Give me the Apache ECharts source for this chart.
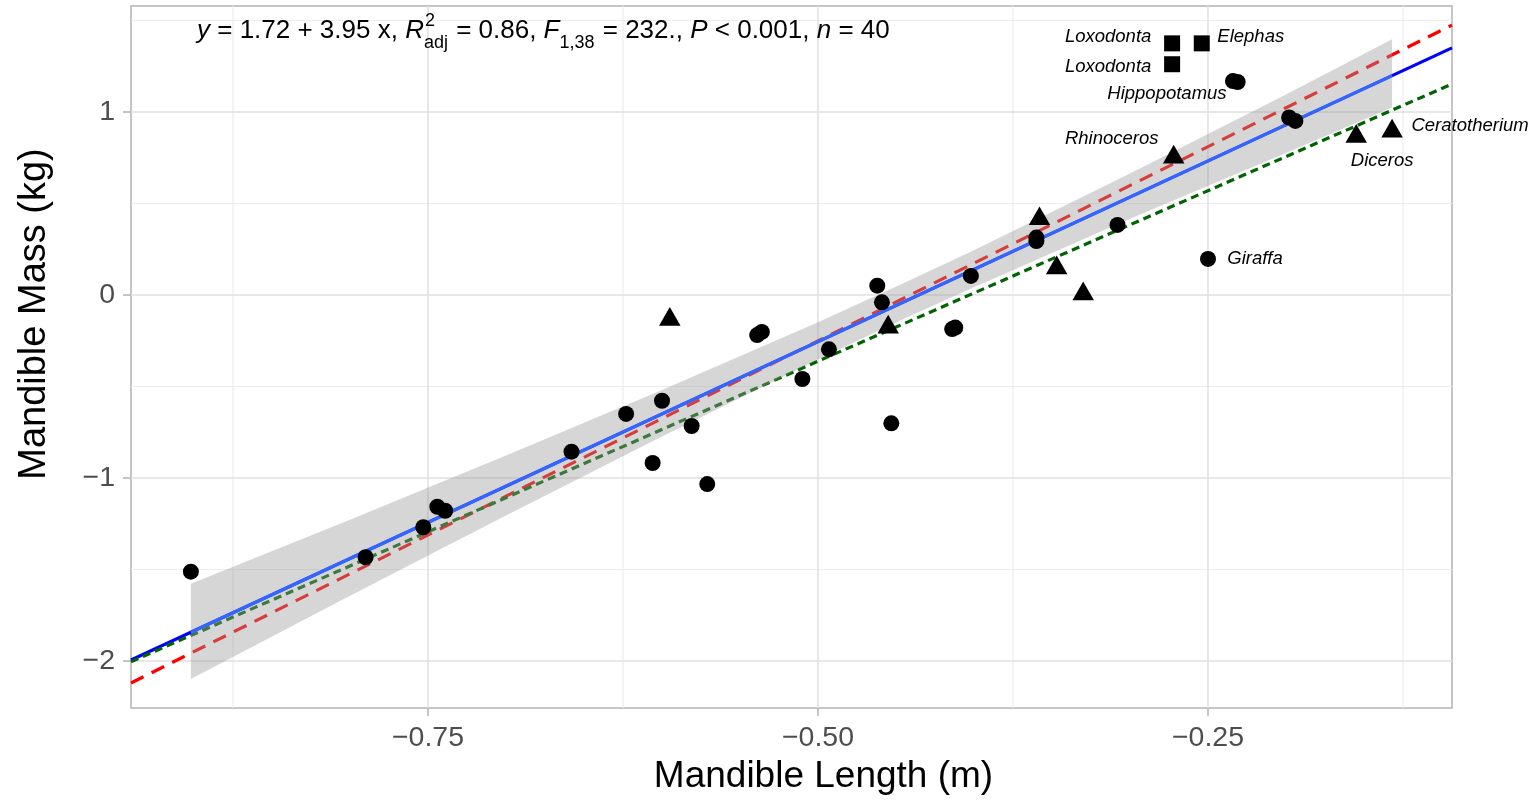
<!DOCTYPE html>
<html>
<head>
<meta charset="utf-8">
<script src="https://cdn.jsdelivr.net/npm/echarts@6/dist/echarts.min.js"></script>
<style>
  html, body { margin: 0; padding: 0; background: #ffffff; }
  #chart { width: 1535px; height: 805px; }
</style>
</head>
<body>
<div id="chart"></div>
<script>
// ---- data (log10 mandible length vs. log10 mandible mass) ----
const circleX = [-0.902, -0.790, -0.753, -0.744, -0.739, -0.658, -0.623, -0.606, -0.600, -0.581,
                 -0.571, -0.539, -0.536, -0.510, -0.493, -0.462, -0.459, -0.453, -0.414, -0.412,
                 -0.402, -0.360, -0.360, -0.308, -0.250, -0.234, -0.231, -0.198, -0.194];
const circleY = [-1.512, -1.433, -1.269, -1.157, -1.179, -0.856, -0.650, -0.918, -0.578, -0.716,
                 -1.033, -0.219, -0.202, -0.459, -0.297, 0.051, -0.040, -0.701, -0.186, -0.178,
                 0.104, 0.314, 0.295, 0.383, 0.197, 1.169, 1.164, 0.970, 0.951];
const circleNames = ['', '', '', '', '', '', '', '', '', '', '', '', '', '', '', '', '', '', '', '',
                     '', '', '', '', 'Giraffa', 'Hippopotamus', '', '', ''];

const triangleX = [-0.595, -0.455, -0.358, -0.347, -0.330, -0.272, -0.155, -0.132];
const triangleY = [-0.134, -0.176, 0.416, 0.148, 0.006, 0.753, 0.866, 0.895];
const triangleNames = ['', '', '', '', '', 'Rhinoceros', 'Diceros', 'Ceratotherium'];

const squareX = [-0.273, -0.254, -0.273];
const squareY = [1.375, 1.375, 1.261];
const squareNames = ['Loxodonta', 'Elephas', 'Loxodonta'];

// confidence band of the fitted line
const ribbonX     = [-0.902, -0.80, -0.70, -0.60, -0.50, -0.446, -0.40, -0.30, -0.20, -0.132];
const ribbonUpper = [-1.578, -1.228, -0.877, -0.519, -0.149, 0.062, 0.245, 0.664, 1.096, 1.398];
const ribbonLower = [-2.098, -1.644, -1.205, -0.773, -0.353, -0.134, 0.043, 0.416, 0.776, 1.024];

// regression and reference lines: intercept, slope
const fitIntercept = 1.72, fitSlope = 3.95;
const dashedIntercept = 1.872, dashedSlope = 4.245;
const dottedIntercept = 1.502, dottedSlope = 3.728;

// model statistics
const r2adj = '0.86', fDf = '1,38', fValue = '232.', pText = '< 0.001', nObs = 40;

// axes
const xTicks = [-0.75, -0.50, -0.25];
const xMinorTicks = [-0.875, -0.625, -0.375, -0.125];
const yTicks = [-2, -1, 0, 1];
const yMinorTicks = [-1.5, -0.5, 0.5, 1.5];

// ---- layout ----
const X_MIN = -0.94038, X_MAX = -0.09359;
const Y_MIN = -2.2568, Y_MAX = 1.5792;
const FONT = '"Liberation Sans", Arial, Helvetica, sans-serif';

// label offsets (px) relative to the marker
const labelOffsets = {
  circle: { 24: [47, 0], 25: [-66, 13] },
  triangle: { 5: [-62, -15], 6: [26, 27], 7: [78, -2] },
  square: { 0: [-64, -7], 1: [49, -7], 2: [-64, 3] }
};

function pointData(xs, ys, names, kind) {
  return xs.map((x, i) => {
    const item = { value: [x, ys[i]], name: names[i] };
    if (names[i]) {
      item.label = {
        show: true, position: 'inside', formatter: '{b}',
        offset: labelOffsets[kind][i],
        fontStyle: 'italic', fontSize: 18.5, fontFamily: FONT, color: '#000'
      };
    }
    return item;
  });
}

function lineEnds(a, b, x0, x1) {
  return [[x0, a + b * x0], [x1, a + b * x1]];
}

const minus = s => s.replace('-', '\u2212');

// gridlines
const gridSpecs = []
  .concat(xMinorTicks.map(v => ({ axis: 'x', v, major: false })))
  .concat(yMinorTicks.map(v => ({ axis: 'y', v, major: false })))
  .concat(xTicks.map(v => ({ axis: 'x', v, major: true })))
  .concat(yTicks.map(v => ({ axis: 'y', v, major: true })));

// equation text built from pieces
const ctx = document.createElement('canvas').getContext('2d');
function tw(t, size, italic) {
  ctx.font = (italic ? 'italic ' : '') + size + 'px ' + FONT;
  return ctx.measureText(t).width;
}
const EQ_SIZE = 26, EQ_SMALL = 18, EQ_X = 197, EQ_Y = 31;
const eqParts = [
  { t: 'y', it: true },
  { t: ' = ' + fitIntercept.toFixed(2) + ' + ' + fitSlope.toFixed(2) + ' x, ' },
  { t: 'R', it: true },
  { sup: '2', sub: 'adj' },
  { t: ' = ' + r2adj + ', ' },
  { t: 'F', it: true },
  { sub: fDf },
  { t: ' = ' + fValue + ', ' },
  { t: 'P', it: true },
  { t: ' ' + pText + ', ' },
  { t: 'n', it: true },
  { t: ' = ' + nObs }
];
const eqGraphics = [];
let cx = EQ_X;
function eqText(text, x, y, size, italic) {
  eqGraphics.push({
    type: 'text', x, y, z: 100, silent: true,
    style: { text, fontSize: size, fontStyle: italic ? 'italic' : 'normal', fontFamily: FONT,
             fill: '#000', align: 'left', verticalAlign: 'middle' }
  });
}
eqParts.forEach(p => {
  if (p.t !== undefined) {
    eqText(p.t, cx, EQ_Y, EQ_SIZE, p.it);
    cx += tw(p.t, EQ_SIZE, p.it);
  } else {
    let w = 0;
    if (p.sup) { eqText(p.sup, cx + 1, EQ_Y - 10, EQ_SMALL, false); w = Math.max(w, tw(p.sup, EQ_SMALL)); }
    if (p.sub) { eqText(p.sub, cx, EQ_Y + 12, EQ_SMALL, false); w = Math.max(w, tw(p.sub, EQ_SMALL)); }
    cx += w + 1;
  }
});

const chart = echarts.init(document.getElementById('chart'), null, { renderer: 'canvas' });

chart.setOption({
  animation: false,
  backgroundColor: '#ffffff',
  grid: {
    left: 131, top: 6, width: 1321, height: 702,
    show: true, borderColor: '#B3B3B3', borderWidth: 1.5, backgroundColor: 'transparent'
  },
  xAxis: {
    type: 'value', min: X_MIN, max: X_MAX,
    name: 'Mandible Length (m)', nameLocation: 'middle', nameGap: 50,
    nameTextStyle: { fontSize: 37, fontFamily: FONT, color: '#000', padding: [0, 0, 0, 64] },
    axisLine: { show: false, onZero: false },
    splitLine: { show: false },
    axisTick: { show: true, length: 8, customValues: xTicks, lineStyle: { color: '#B3B3B3', width: 1.5 } },
    axisLabel: {
      customValues: xTicks, margin: 16, fontSize: 28.5, fontFamily: FONT, color: '#4D4D4D',
      formatter: v => minus(v.toFixed(2))
    }
  },
  yAxis: {
    type: 'value', min: Y_MIN, max: Y_MAX,
    name: 'Mandible Mass (kg)', nameLocation: 'middle', nameGap: 77, nameRotate: 90,
    nameTextStyle: { fontSize: 38, fontFamily: FONT, color: '#000', padding: [0, 0, 0, 86] },
    axisLine: { show: false, onZero: false },
    splitLine: { show: false },
    axisTick: { show: true, length: 8, customValues: yTicks, lineStyle: { color: '#B3B3B3', width: 1.5 } },
    axisLabel: {
      customValues: yTicks, margin: 16, fontSize: 28.5, fontFamily: FONT, color: '#4D4D4D',
      formatter: v => minus(String(v))
    }
  },
  graphic: { elements: eqGraphics },
  series: [
    {
      // panel gridlines
      type: 'custom', z: 0, silent: true,
      data: gridSpecs.map(g => [g.axis === 'x' ? g.v : X_MIN, g.axis === 'y' ? g.v : Y_MIN]),
      renderItem(params, api) {
        const g = gridSpecs[params.dataIndex];
        const cs = params.coordSys;
        let shape;
        if (g.axis === 'x') {
          const px = api.coord([g.v, 0])[0];
          shape = { x1: px, y1: cs.y, x2: px, y2: cs.y + cs.height };
        } else {
          const py = api.coord([X_MIN, g.v])[1];
          shape = { x1: cs.x, y1: py, x2: cs.x + cs.width, y2: py };
        }
        return {
          type: 'line', shape,
          style: { stroke: g.major ? '#E0E0E0' : '#EDEDED', lineWidth: g.major ? 1.5 : 1.2 }
        };
      }
    },
    {
      name: 'fit (extended)', type: 'line', z: 1, silent: true, showSymbol: false,
      data: lineEnds(fitIntercept, fitSlope, X_MIN, X_MAX),
      lineStyle: { color: '#0000FF', width: 3.2 }
    },
    {
      name: 'dashed reference', type: 'line', z: 1, silent: true, showSymbol: false,
      data: lineEnds(dashedIntercept, dashedSlope, X_MIN, X_MAX),
      lineStyle: { color: '#FF0000', width: 3.2, type: [14, 9], cap: 'butt' }
    },
    {
      name: 'dotted reference', type: 'line', z: 1, silent: true, showSymbol: false,
      data: lineEnds(dottedIntercept, dottedSlope, X_MIN, X_MAX),
      lineStyle: { color: '#006400', width: 3.2, type: [8, 5], cap: 'butt' }
    },
    {
      // confidence band
      type: 'custom', z: 2, silent: true,
      data: ribbonX.map((x, i) => [x, ribbonUpper[i], ribbonLower[i]]),
      encode: { x: 0, y: [1, 2] },
      renderItem(params, api) {
        if (params.dataIndex !== 0) return null;
        const up = ribbonX.map((x, i) => api.coord([x, ribbonUpper[i]]));
        const lo = ribbonX.map((x, i) => api.coord([x, ribbonLower[i]])).reverse();
        return { type: 'polygon', shape: { points: up.concat(lo) }, style: { fill: 'rgba(153,153,153,0.4)' } };
      }
    },
    {
      name: 'fit', type: 'line', z: 3, silent: true, showSymbol: false,
      data: lineEnds(fitIntercept, fitSlope, ribbonX[0], ribbonX[ribbonX.length - 1]),
      lineStyle: { color: '#3366FF', width: 3.2 }
    },
    {
      type: 'scatter', z: 4, symbol: 'circle', symbolSize: 16,
      itemStyle: { color: '#000', opacity: 1 },
      data: pointData(circleX, circleY, circleNames, 'circle')
    },
    {
      type: 'scatter', z: 4, symbol: 'triangle', symbolSize: [21.5, 18.7], symbolOffset: [0, -3.1],
      itemStyle: { color: '#000', opacity: 1 },
      data: pointData(triangleX, triangleY, triangleNames, 'triangle')
    },
    {
      type: 'scatter', z: 4, symbol: 'rect', symbolSize: 16,
      itemStyle: { color: '#000', opacity: 1 },
      data: pointData(squareX, squareY, squareNames, 'square')
    }
  ]
});
</script>
</body>
</html>
